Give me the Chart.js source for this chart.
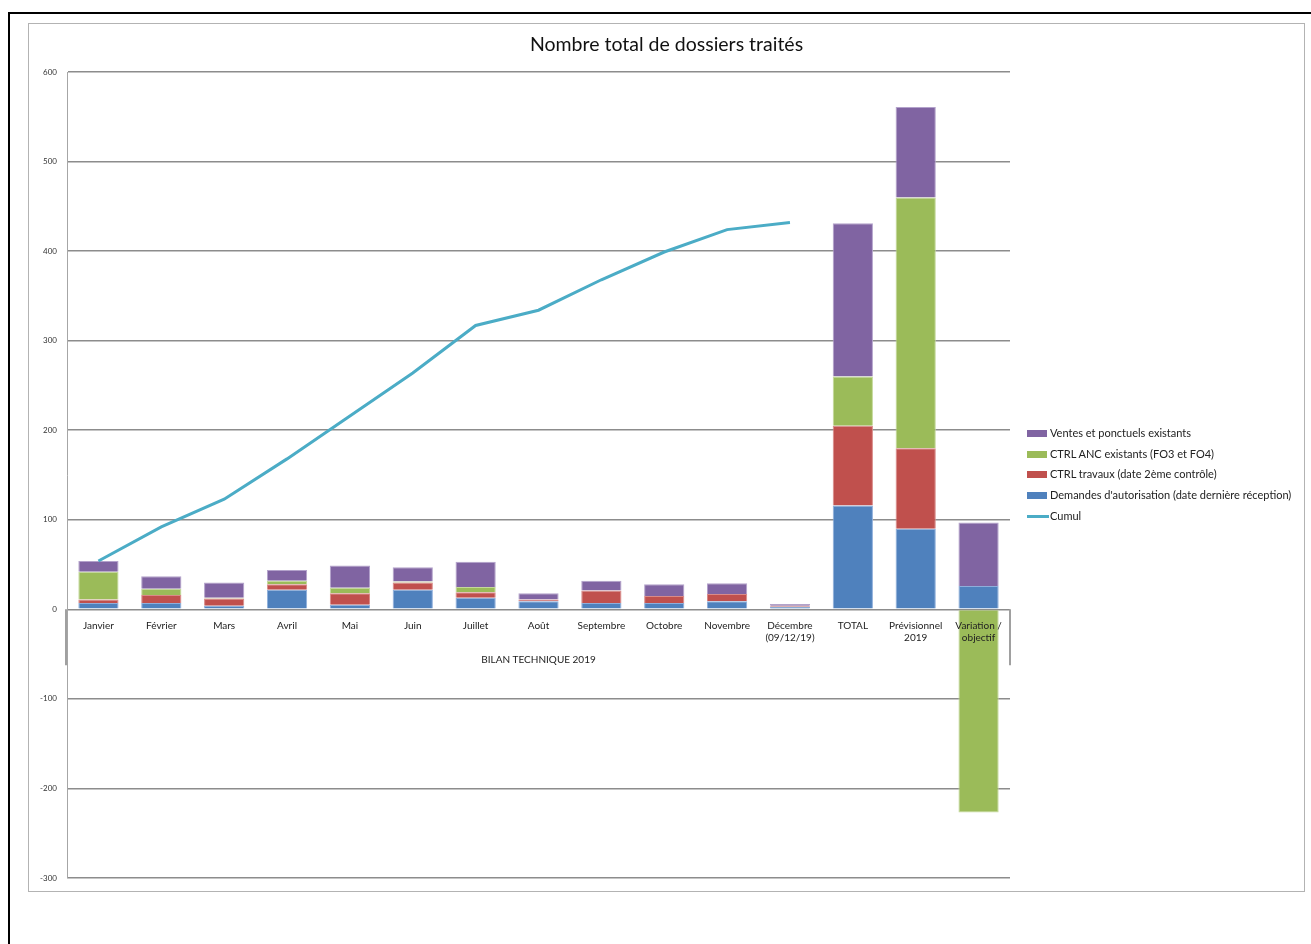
<!DOCTYPE html>
<html lang="fr">
<head>
<meta charset="utf-8">
<title>Nombre total de dossiers traités</title>
<script src="https://cdn.jsdelivr.net/npm/chart.js@4.4.0/dist/chart.umd.min.js"></script>
<style>
  html, body { margin: 0; padding: 0; background: #fff; }
  body { width: 1311px; height: 944px; position: relative; overflow: hidden; font-family: Lato, "Open Sans", sans-serif; }
  #frame { position: absolute; left: 8px; top: 12px; width: 1400px; height: 1000px; border-left: 2px solid #000; border-top: 2px solid #000; }
  #box { position: absolute; left: 28px; top: 23px; width: 1275px; height: 867px; border: 1px solid #b3b3b3; }
  #wrap { position: absolute; left: 0; top: 0; width: 1311px; height: 944px; }
  #legend { position: absolute; left: 1027px; top: 423px; font-size: 11px; color: #222; line-height: 20.7px; }
  #legend div { display: flex; align-items: center; white-space: nowrap; }
  #legend .sw { display: inline-block; width: 20px; height: 7px; margin-right: 3px; }
  #legend .ln { display: inline-block; width: 22px; height: 3px; margin-right: 1px; background: #4bacc6; }
</style>
</head>
<body>
<div id="frame"></div>
<div id="box"></div>
<div id="wrap"><canvas id="chart" width="1311" height="944"></canvas></div>
<div id="legend"></div>
<script>
const categories = ['Janvier', 'Février', 'Mars', 'Avril', 'Mai', 'Juin', 'Juillet', 'Août', 'Septembre',
  'Octobre', 'Novembre', ['Décembre', '(09/12/19)'], 'TOTAL', ['Prévisionnel', '2019'], ['Variation /', 'objectif']];

// series values
const demandes = [7, 7, 4, 22, 5, 22, 13, 9, 7, 7, 9, 3, 116, 90, 26];
const ctrlTravaux = [4, 9, 8, 6, 13, 8, 6, 2, 14, 8, 8, 1, 89, 90, -1];
const ctrlAnc = [31, 7, 1, 4, 6, 1, 6, 0, 0, 0, 0, 0, 55, 280, -226];
const ventes = [12, 14, 17, 12, 25, 16, 28, 7, 11, 13, 12, 2, 171, 101, 71];
const cumul = [54, 92, 123, 168, 216, 264, 317, 334, 368, 399, 424, 432, null, null, null];

const yTicks = [-300, -200, -100, 0, 100, 200, 300, 400, 500, 600];

const COLORS = {
  demandes: '#4f81bd',
  travaux: '#c0504d',
  anc: '#9bbb59',
  ventes: '#8064a2',
  cumul: '#4bacc6'
};

function bar(label, data, color, edge) {
  return {
    type: 'bar', label, data, stack: 'bars', order: 1,
    backgroundColor: color, borderColor: edge, borderWidth: 1,
    categoryPercentage: 0.64, barPercentage: 1
  };
}

// little helper for the two-level category axis (group label + side ticks)
const groupAxis = {
  id: 'groupAxis',
  afterDraw(chart) {
    const { ctx, chartArea } = chart;
    const y0 = chart.scales.y.getPixelForValue(0);
    ctx.save();
    ctx.strokeStyle = '#a0a0a0';
    ctx.lineWidth = 2;
    ctx.beginPath();
    ctx.moveTo(chartArea.left - 1, y0);
    ctx.lineTo(chartArea.left - 1, y0 + 56);
    ctx.moveTo(chartArea.right, y0);
    ctx.lineTo(chartArea.right, y0 + 56);
    ctx.stroke();
    ctx.fillStyle = '#222';
    ctx.font = '10px Lato, "Open Sans", sans-serif';
    ctx.textAlign = 'center';
    ctx.textBaseline = 'middle';
    ctx.fillText('BILAN TECHNIQUE 2019', (chartArea.left + chartArea.right) / 2, y0 + 50);
    ctx.restore();
  }
};

const chart = new Chart(document.getElementById('chart'), {
  data: {
    labels: categories,
    datasets: [
      {
        type: 'line', label: 'Cumul', data: cumul, stack: 'cumul', order: 0,
        borderColor: COLORS.cumul, borderWidth: 3, pointRadius: 0, tension: 0, spanGaps: false
      },
      bar("Demandes d'autorisation (date dernière réception)", demandes, COLORS.demandes, '#8eaedb'),
      bar('CTRL travaux (date 2ème contrôle)', ctrlTravaux, COLORS.travaux, '#d98a88'),
      bar('CTRL ANC existants (FO3 et FO4)', ctrlAnc, COLORS.anc, '#c4d99a'),
      bar('Ventes et ponctuels existants', ventes, COLORS.ventes, '#b3a2cb')
    ]
  },
  options: {
    responsive: false,
    animation: false,
    layout: { padding: { left: 37, top: 72, right: 301, bottom: 66 } },
    plugins: {
      legend: { display: false },
      tooltip: { enabled: false },
      title: { display: false }
    },
    scales: {
      x: {
        stacked: true,
        position: { y: 0 },
        grid: { display: false, drawTicks: false },
        border: { display: false },
        ticks: {
          z: 1, padding: 10, color: '#222', maxRotation: 0, autoSkip: false,
          font: { family: 'Lato, "Open Sans", sans-serif', size: 10 }
        }
      },
      y: {
        stacked: true,
        min: -300,
        max: 600,
        afterBuildTicks: s => { s.ticks = yTicks.map(v => ({ value: v })); },
        afterFit: s => { s.width = 30; },
        grid: { color: '#8c8c8c', lineWidth: 1.6, drawTicks: false },
        border: { color: '#a6a6a6', width: 1 },
        ticks: {
          padding: 10, color: '#333',
          font: { family: 'Lato, "Open Sans", sans-serif', size: 8 }
        }
      }
    }
  },
  plugins: [groupAxis]
});

// legend, in the same order as the reference (top series first)
const legendItems = [
  { label: 'Ventes et ponctuels existants', color: COLORS.ventes },
  { label: 'CTRL ANC existants (FO3 et FO4)', color: COLORS.anc },
  { label: 'CTRL travaux (date 2ème contrôle)', color: COLORS.travaux },
  { label: "Demandes d'autorisation (date dernière réception)", color: COLORS.demandes },
  { label: 'Cumul', color: COLORS.cumul, line: true }
];
const lg = document.getElementById('legend');
legendItems.forEach(it => {
  const row = document.createElement('div');
  const sw = document.createElement('span');
  sw.className = it.line ? 'ln' : 'sw';
  if (!it.line) sw.style.background = it.color;
  row.appendChild(sw);
  row.appendChild(document.createTextNode(it.label));
  lg.appendChild(row);
});

// title text, drawn centred over the whole chart box
const t = document.createElement('div');
t.textContent = 'Nombre total de dossiers traités';
t.style.cssText = 'position:absolute;left:28px;width:1277px;top:32px;text-align:center;font-size:19.5px;color:#111;';
document.body.appendChild(t);
</script>
</body>
</html>
